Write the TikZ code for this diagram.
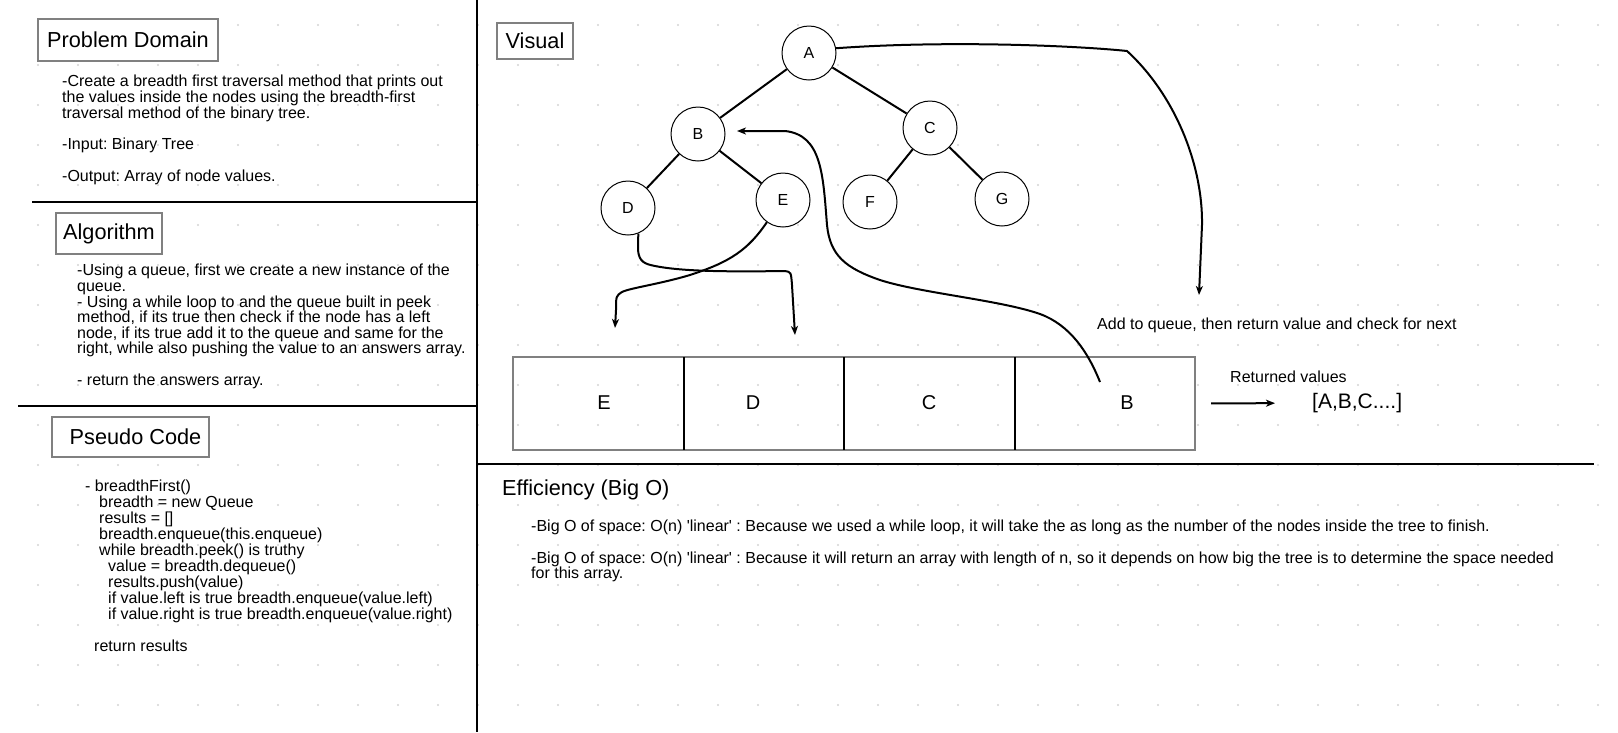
\documentclass[tikz,border=0pt]{standalone}
\usepackage{fontspec}
\setmainfont{Liberation Sans}
\frenchspacing
\usetikzlibrary{arrows.meta}
\definecolor{boxgray}{HTML}{808080}
\definecolor{dotgray}{HTML}{D4D4D4}

\begin{document}
\begin{tikzpicture}[x = 1pt, y = -1pt,
	headbox/.style = {draw = boxgray, line width = 2pt, fill = white, inner sep = 0pt, font = \fontsize{21.7}{26}\selectfont},
	body/.style = {inner sep = 0pt, align = left, anchor = north west, font = \fontsize{16}{15.6}\selectfont},
	note/.style = {inner sep = 0pt, anchor = west, font = \fontsize{16}{19}\selectfont},
	treenode/.style = {circle, draw, line width = 1pt, fill = white, minimum size = 54pt, inner sep = 0pt, font = \fontsize{16}{19}\selectfont},
	cellname/.style = {inner sep = 0pt, font = \fontsize{20}{24}\selectfont},
	flow/.style = {line width = 2pt, -{Stealth[length = 9pt, width = 7pt, inset = 2.5pt]}},
	divider/.style = {line width = 2.5pt}]
	\useasboundingbox (0, 0) rectangle (1618, 732);
	\foreach \gx in {0, ..., 39} {
		\foreach \gy in {0, ..., 17} {
			\fill [dotgray] (38 + 40 * \gx, 25 + 40 * \gy) circle (1.1);
		}
	}
	\draw [divider] (477, 0) -- (477, 732)
		(32, 202) -- (477, 202)
		(18, 406) -- (477, 406)
		(477, 464) -- (1594, 464);

	\node [headbox, minimum width = 180pt, minimum height = 42pt] (probhead) at (128, 40) {Problem Domain};
	\node [body] (probtext) at (62, 75) {-Create a breadth first traversal method that prints out\\the values inside the nodes using the breadth-first\\traversal method of the binary tree.\\[16pt]-Input: Binary Tree\\[16pt]-Output: Array of node values.};
	\node [headbox, minimum width = 106pt, minimum height = 41pt] (alghead) at (109, 233.5) {Algorithm};
	\node [body] (algtext) at (77, 264) {-Using a queue, first we create a new instance of the\\queue.\\- Using a while loop to and the queue built in peek\\method, if its true then check if the node has a left\\node, if its true add it to the queue and same for the\\right, while also pushing the value to an answers array.\\[15.6pt]- return the answers array.};
	\node [headbox, minimum width = 157pt, minimum height = 40pt] (pseudohead) at (130.5, 437) {\hspace*{10pt}Pseudo Code};
	\node [body, font = \fontsize{16}{16}\selectfont] (pseudotext) at (85, 480) {- breadthFirst()\\\hspace*{14pt}breadth = new Queue\\\hspace*{14pt}results = []\\\hspace*{14pt}breadth.enqueue(this.enqueue)\\\hspace*{14pt}while breadth.peek() is truthy\\\hspace*{23pt}value = breadth.dequeue()\\\hspace*{23pt}results.push(value)\\\hspace*{23pt}if value.left is true breadth.enqueue(value.left)\\\hspace*{23pt}if value.right is true breadth.enqueue(value.right)\\[16pt]\hspace*{9pt}return results};

	\node [headbox, minimum width = 76pt, minimum height = 36pt] (vishead) at (535, 41) {Visual};
	\draw [line width = 2pt] (809, 53) node [treenode] (A) {A}
		(698, 134) node [treenode] (B) {B}
		(930, 128) node [treenode] (C) {C}
		(628, 208) node [treenode] (D) {D}
		(783, 200) node [treenode] (E) {E}
		(870, 202) node [treenode] (F) {F}
		(1002, 199) node [treenode] (G) {G}
		(A) -- (B) (A) -- (C) (B) -- (D) (B) -- (E) (C) -- (F) (C) -- (G);

	\node [draw = boxgray, line width = 2pt, minimum width = 682pt, minimum height = 93pt, inner sep = 0pt] (queue) at (854, 403.5) {};
	\foreach \qx in {684, 844, 1015}
		\draw [line width = 1.6pt] (\qx, 357) -- (\qx, 450);
	\node [cellname] (cellE) at (604, 403) {E};
	\node [cellname] (cellD) at (753, 403) {D};
	\node [cellname] (cellC) at (929, 403) {C};
	\node [cellname] (cellB) at (1127, 403) {B};
	\node [note] (addnote) at (1097, 325) {Add to queue, then return value and check for next};
	\node [note] (retnote) at (1230, 377) {Returned values};
	\node [cellname, anchor = west, font = \fontsize{21}{25}\selectfont] (result) at (1312, 403) {[A,B,C....]};

	\coordinate (dropA) at (1199, 295);
	\coordinate (dropE) at (615, 328);
	\coordinate (dropD) at (795, 335);
	\coordinate (takeB) at (1100, 382);
	\coordinate (backB) at (737, 131);
	\draw [flow] (A.10) .. controls (950, 40) and (1080, 46) .. (1127, 51) .. controls (1175, 95) and (1203, 165) .. (1202, 225) -- (dropA);
	\draw [flow] (E.234) .. controls (748, 250) and (730, 262) .. (690, 275) .. controls (660, 284) and (630, 288) .. (622, 292) .. controls (616, 296) .. (616, 310) -- (dropE);
	\draw [flow] (D.292) -- (638, 250) .. controls (639, 262) and (645, 264) .. (655, 266) .. controls (680, 271) and (720, 272) .. (785, 271) .. controls (791, 272) .. (792, 285) -- (dropD);
	\draw [flow] (takeB) .. controls (1088, 352) and (1070, 325) .. (1040, 314) .. controls (1000, 300) and (920, 293) .. (880, 280) .. controls (845, 268) and (830, 255) .. (827, 225) .. controls (823, 175) and (822, 135) .. (785, 131) -- (backB);
	\draw [flow, shorten <= 15pt, shorten >= 37pt] (queue.east) -- (result.west);

	\node [note, font = \fontsize{21.7}{26}\selectfont] (effhead) at (502, 490) {Efficiency (Big O)};
	\node [body] (efftext) at (531, 520) {-Big O of space: O(n) \textquotesingle linear\textquotesingle\ : Because we used a while loop, it will take the as long as the number of the nodes inside the tree to finish.\\[15.6pt]-Big O of space: O(n) \textquotesingle linear\textquotesingle\ : Because it will return an array with length of n, so it depends on how big the tree is to determine the space needed\\for this array.};
\end{tikzpicture}
\end{document}
